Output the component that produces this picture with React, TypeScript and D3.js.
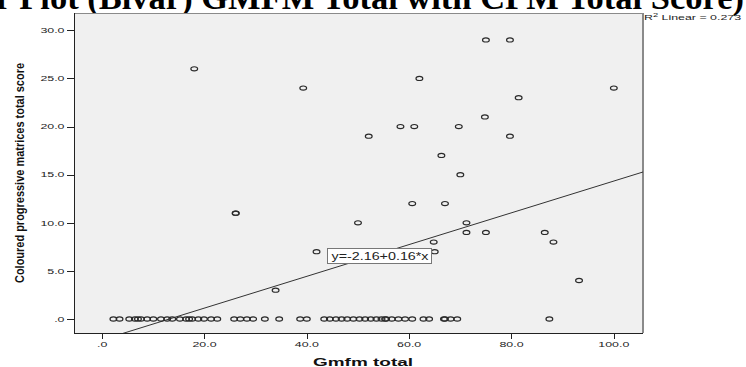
import React from "react";
import * as d3 from "d3";

// ---- data ----
const zeroRowX: number[] = [
  2.2, 3.4, 5.3, 6.4, 7.0, 7.6, 8.8, 10.0, 11.5, 12.7, 13.7, 15.2, 16.4, 17.0, 17.6, 18.8, 19.9,
  21.3, 22.5, 25.8, 27.0, 28.3, 29.5, 31.8, 34.6, 38.7, 40.0, 43.4, 44.5, 45.7, 46.8, 47.9,
  49.1, 50.3, 51.4, 52.5, 53.6, 54.6, 55.3, 55.5, 56.6, 57.9, 59.2, 60.6, 62.8, 63.9, 66.8,
  67.0, 68.1, 69.4, 87.4,
];
const pointsX: number[] = [
  75, 79.7, 62, 18, 39.3, 100, 81.4, 74.8, 58.3, 61, 69.7, 52.1, 79.7, 66.3, 70, 60.6, 67, 50,
  71.2, 71.2, 75, 86.5, 64.8, 88.2, 41.9, 65, 93.2, 33.9, 26.1, 26.1,
];
const pointsY: number[] = [
  29, 29, 25, 26, 24, 24, 23, 21, 20, 20, 20, 19, 19, 17, 15, 12, 12, 10, 10, 9, 9, 9, 8, 8, 7,
  7, 4, 3, 11, 11,
];
const xTicks: number[] = [0, 20, 40, 60, 80, 100];
const yTicks: number[] = [0, 5, 10, 15, 20, 25, 30];
const fitIntercept = -2.16;
const fitSlope = 0.165;
const rSquared = 0.273;
const titleText = "Scatter Plot (Bivar) GMFM Total with CPM Total Score)";
const xTitle = "Gmfm total";
const yTitle = "Coloured progressive matrices total score";

const fmt = (v: number) => (v === 0 ? ".0" : v.toFixed(1));

export default function App() {
  const W = 746, H = 367;
  const left = 74, right = 643, top = 13, bottom = 333;
  const x = d3.scaleLinear().domain([-5.5, 105.7]).range([left, right]);
  const y = d3.scaleLinear().domain([-1.45, 31.8]).range([bottom, top]);
  const SX = 1.55;
  const font = "'Liberation Sans', Arial, sans-serif";

  const all = [
    ...zeroRowX.map((v) => [v, 0] as [number, number]),
    ...pointsX.map((v, i) => [v, pointsY[i]] as [number, number]),
  ];
  const lineGen = d3
    .line<number>()
    .x((d) => x(d))
    .y((d) => y(fitIntercept + fitSlope * d));
  const lineXs = x.domain();

  return (
    <svg
      width={W}
      height={H}
      style={{ position: "absolute", left: 0, top: 0, display: "block", background: "#fff" }}
    >
      <defs>
        <clipPath id="plotclip">
          <rect x={left} y={top} width={right - left} height={bottom - top} />
        </clipPath>
      </defs>
      <text
        x={744}
        y={9}
        textAnchor="end"
        fontFamily="'Liberation Serif', 'Times New Roman', serif"
        fontWeight="bold"
        fontSize={34.5}
        fill="#000"
      >
        {titleText}
      </text>
      <rect x={left} y={top} width={right - left} height={bottom - top} fill="#f0f0f0" />
      <line x1={left} x2={right} y1={top + 0.5} y2={top + 0.5} stroke="#8a8a8a" strokeWidth={1} />
      <line x1={right} x2={right} y1={top} y2={bottom} stroke="#8a8a8a" strokeWidth={2} />

      <g clipPath="url(#plotclip)">
        <path d={lineGen(lineXs) || ""} fill="none" stroke="#333" strokeWidth={1} />
        {all.map(([vx, vy], i) => (
          <ellipse
            key={i}
            cx={x(vx)}
            cy={y(vy)}
            rx={3.4}
            ry={2.1}
            fill="none"
            stroke="#2a2a2a"
            strokeWidth={1.15}
          />
        ))}
      </g>

      {/* fit label */}
      <rect x={327.5} y={248.5} width={104} height={15} fill="#fff" stroke="#777" strokeWidth={1} />
      <text
        x={331.5}
        y={260}
        fontFamily={font}
        fontSize={10}
        fill="#222"
        textLength={97}
        lengthAdjust="spacingAndGlyphs"
      >
        y=-2.16+0.16*x
      </text>

      {/* axes */}
      <line x1={left + 0.5} x2={left + 0.5} y1={top} y2={bottom} stroke="#222" />
      <line x1={left} x2={right} y1={bottom + 0.5} y2={bottom + 0.5} stroke="#222" />
      {yTicks.map((t) => (
        <g key={"y" + t}>
          <line x1={67} x2={left} y1={Math.round(y(t)) + 0.5} y2={Math.round(y(t)) + 0.5} stroke="#222" />
          <text
            transform={`translate(64.5,${y(t) + 2.8}) scale(${SX},1)`}
            textAnchor="end"
            fontFamily={font}
            fontSize={8}
            fill="#222"
          >
            {fmt(t)}
          </text>
        </g>
      ))}
      {xTicks.map((t) => (
        <g key={"x" + t}>
          <line x1={Math.round(x(t)) + 0.5} x2={Math.round(x(t)) + 0.5} y1={bottom} y2={339} stroke="#222" />
          <text
            transform={`translate(${x(t)},347) scale(${SX},1)`}
            textAnchor="middle"
            fontFamily={font}
            fontSize={8}
            fill="#222"
          >
            {fmt(t)}
          </text>
        </g>
      ))}

      {/* R2 label */}
      <text transform={`translate(644,19.5) scale(${SX},1)`} fontFamily={font} fontSize={8} fill="#222">
        R<tspan dy={-2.5} fontSize={6}>2</tspan>
        <tspan dy={2.5}> Linear = {rSquared.toFixed(3)}</tspan>
      </text>

      {/* axis titles */}
      <text
        x={313}
        y={365.5}
        fontFamily={font}
        fontWeight="bold"
        fontSize={10.5}
        fill="#111"
        textLength={100}
        lengthAdjust="spacingAndGlyphs"
      >
        {xTitle}
      </text>
      <g transform={`translate(23.5,173) scale(${SX},1) rotate(-90)`}>
        <text
          x={-110}
          y={0}
          fontFamily={font}
          fontWeight="bold"
          fontSize={8.5}
          fill="#111"
          textLength={220}
          lengthAdjust="spacingAndGlyphs"
        >
          {yTitle}
        </text>
      </g>
    </svg>
  );
}
